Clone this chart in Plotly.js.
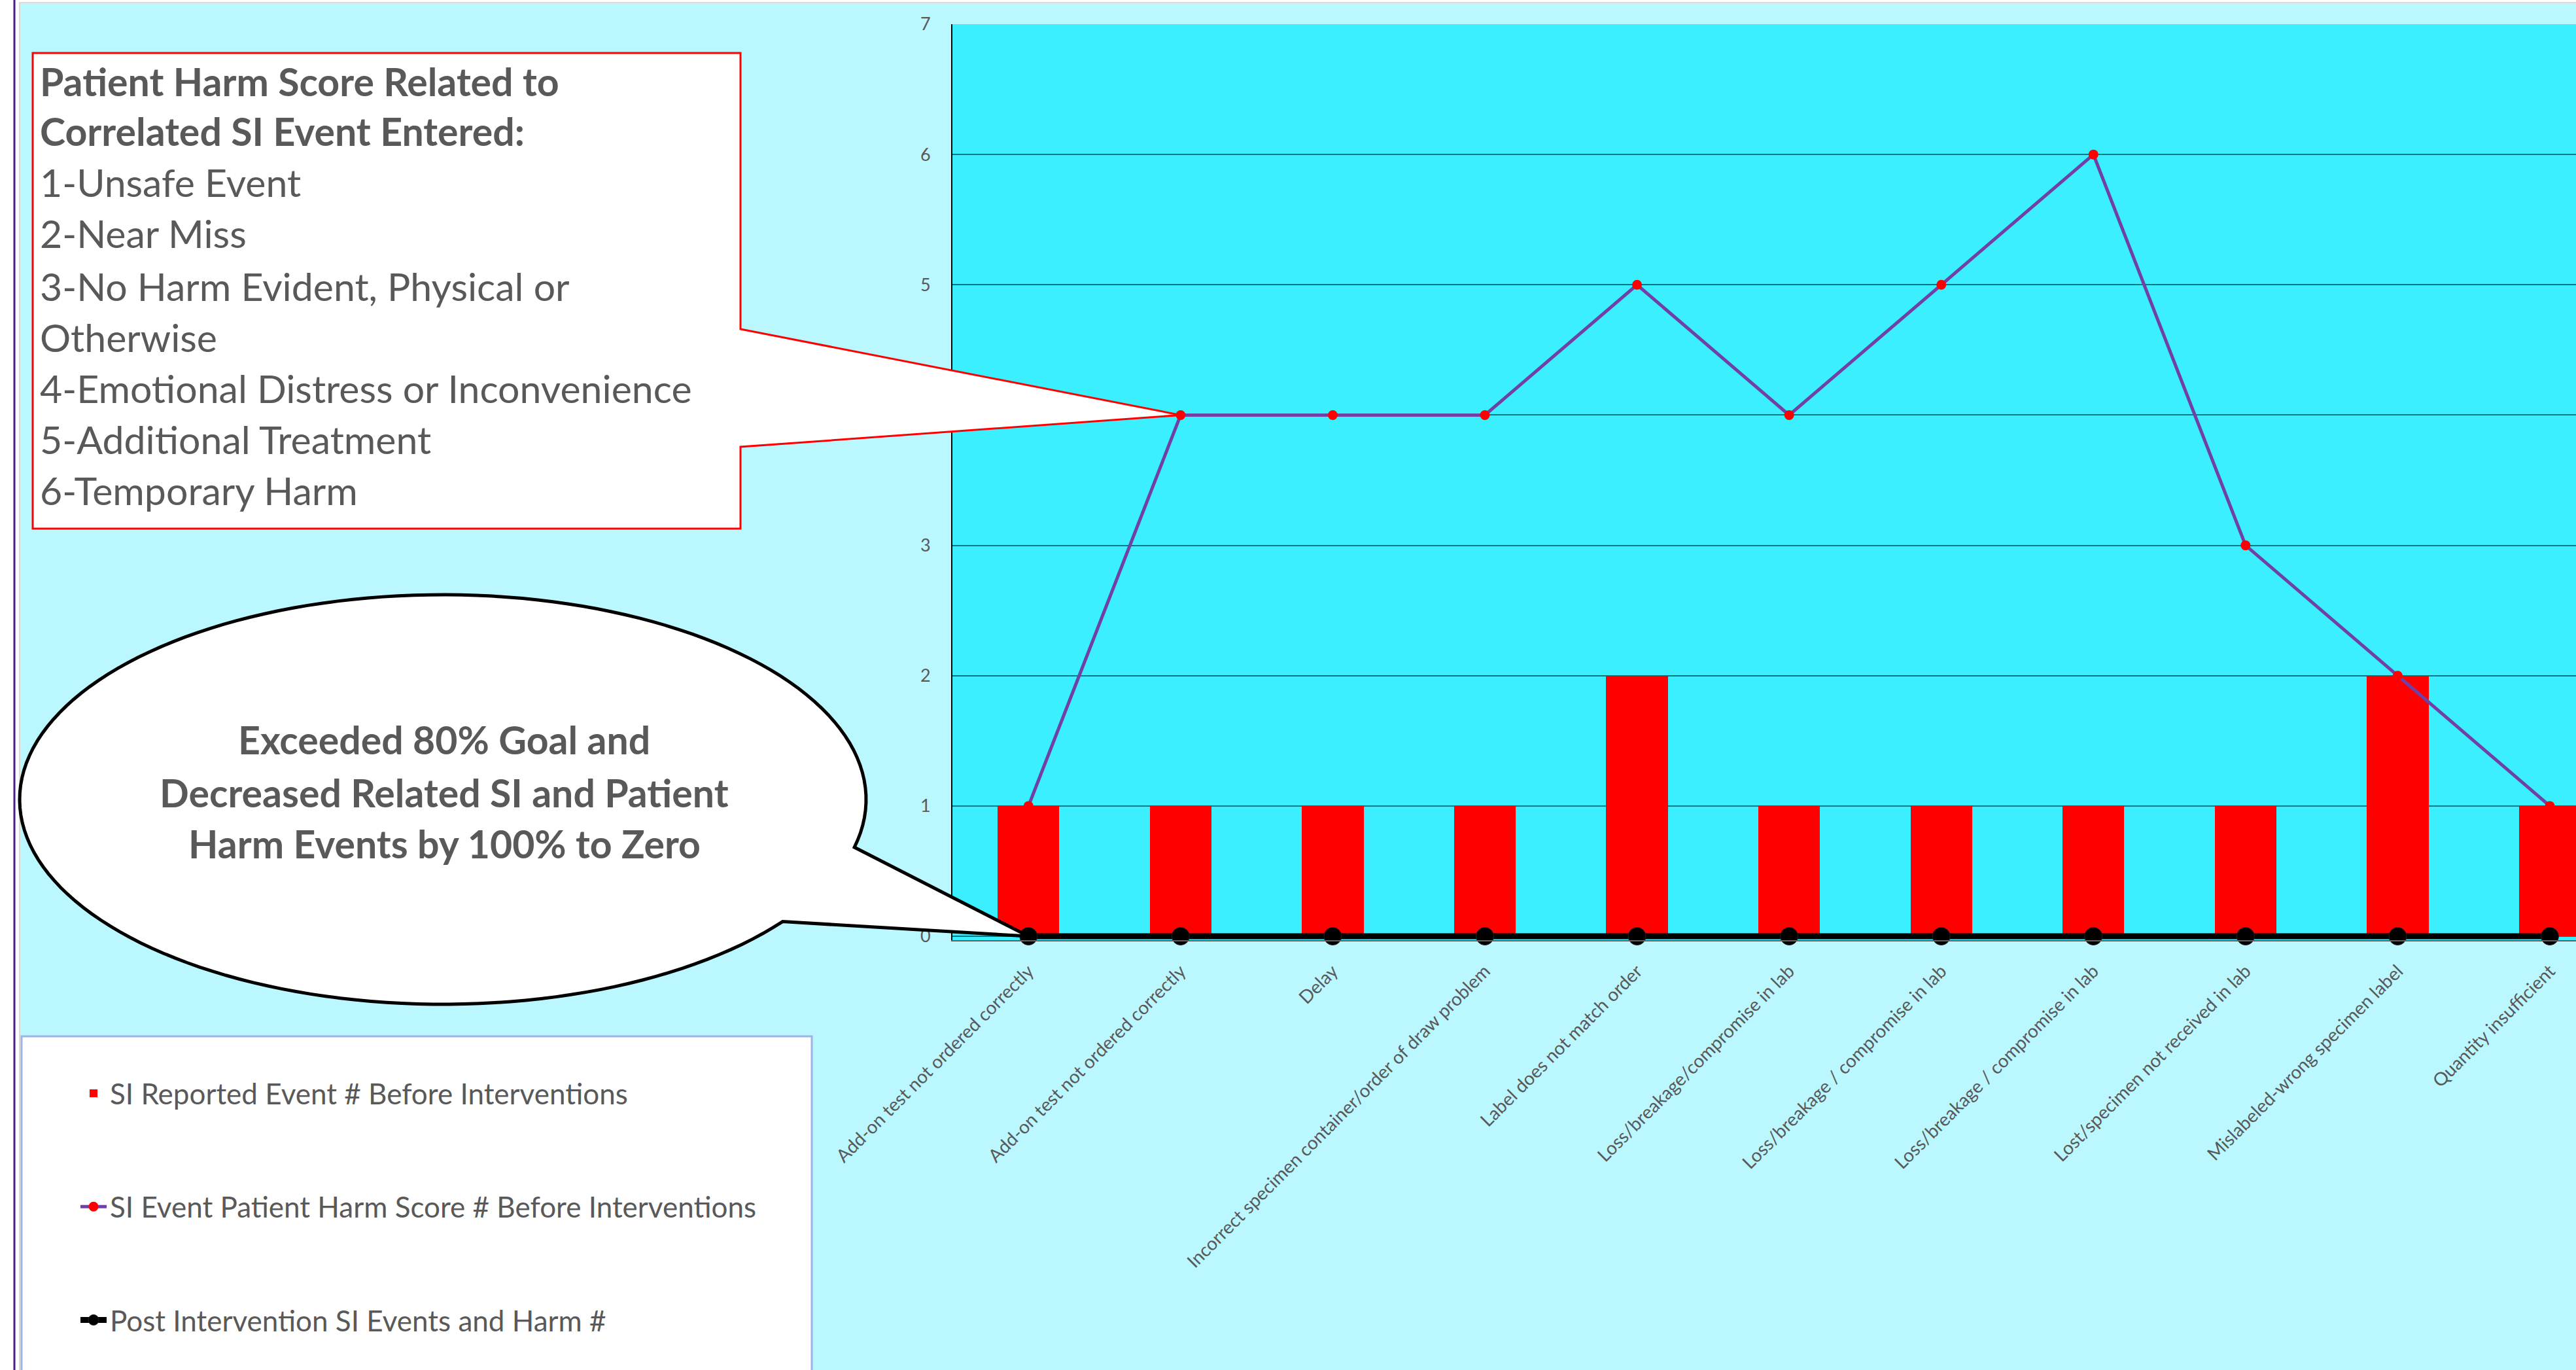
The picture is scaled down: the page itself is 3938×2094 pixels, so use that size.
<!DOCTYPE html>
<html><head><meta charset="utf-8">
<script src="https://cdn.plot.ly/plotly-3.0.1.min.js"></script>
<style>html,body{margin:0;padding:0;background:#ffffff;overflow:hidden}#chart{width:3938px;height:2094px}</style>
</head><body><div id="chart"></div>
<script>
// ---------- data ----------
const categories = [
  'Add-on test not ordered correctly',
  'Add-on test not ordered correctly',
  'Delay',
  'Incorrect specimen container/order of draw problem',
  'Label does not match order',
  'Loss/breakage/compromise in lab',
  'Loss/breakage / compromise in lab',
  'Loss/breakage / compromise in lab',
  'Lost/specimen not received in lab',
  'Mislabeled-wrong specimen label',
  'Quantity insufficient'
];
const reportedEvents = [1, 1, 1, 1, 2, 1, 1, 1, 1, 2, 1];
const harmScores     = [1, 4, 4, 4, 5, 4, 5, 6, 3, 2, 1];
const postEvents     = [0, 0, 0, 0, 0, 0, 0, 0, 0, 0, 0];
const yTicks = [0, 1, 2, 3, 4, 5, 6, 7];
const seriesNames = [
  'SI Reported Event # Before Interventions',
  'SI Event Patient Harm Score # Before Interventions',
  'Post Intervention SI Events and Harm #'
];
const harmKeyTitle = ['Patient Harm Score Related to', 'Correlated SI Event Entered:'];
const harmKeyItems = ['1-Unsafe Event', '2-Near Miss', '3-No Harm Evident, Physical or', 'Otherwise',
  '4-Emotional Distress or Inconvenience', '5-Additional Treatment', '6-Temporary Harm'];
const goalLines = ['Exceeded 80% Goal and', 'Decreased Related SI and Patient', 'Harm Events by 100% to Zero'];

// ---------- geometry ----------
const FW = 3938, FH = 2094;
const ZERO_PX = 1431, UNIT_PX = 199.1;
const YR = [-0.03, 7];
const L = 1456, R = 3938, T = 37, B = Math.round(ZERO_PX - YR[0] * UNIT_PX);
const PW = R - L, PH = B - T;
const XR = [-0.5, 10.172];
const px2x = p => (p - L) / PW;
const py2y = p => (B - p) / PH;
const dataPx = (i, v) => [L + (i - XR[0]) / (XR[1] - XR[0]) * PW, B - (v - YR[0]) / (YR[1] - YR[0]) * PH];
const xIdx = categories.map((_, i) => i);

const FONT = 'Lato, "Open Sans", sans-serif';
const TXT = '#595959';

function pathFromPx(pts) {
  return 'M' + pts.map(p => px2x(p[0]).toFixed(6) + ',' + py2y(p[1]).toFixed(6)).join('L') + 'Z';
}

// red callout box pointing at harm score of category 1
const tipRed = dataPx(1, harmScores[1]);
const redPath = pathFromPx([[50, 81], [1132, 81], [1132, 503], tipRed, [1132, 683], [1132, 808], [50, 808]]);

// ellipse callout pointing at post-intervention point of category 0
const tipBlk = dataPx(0, postEvents[0]);
const ecx = 677, ecy = 1222, erx = 647, ery = 313;
const a0 = 36.6 * Math.PI / 180, a1 = (360 + 13.5) * Math.PI / 180;
const ellPts = [];
for (let k = 0; k <= 160; k++) {
  const a = a0 + (a1 - a0) * k / 160;
  ellPts.push([ecx + erx * Math.cos(a), ecy + ery * Math.sin(a)]);
}
ellPts.push(tipBlk);
const ellPath = pathFromPx(ellPts);

const shapes = [
  // page frame decorations
  {type: 'rect', xref: 'paper', yref: 'paper', x0: px2x(0), x1: px2x(29), y0: py2y(FH), y1: py2y(0), fillcolor: '#ffffff', line: {width: 0}, layer: 'above'},
  {type: 'rect', xref: 'paper', yref: 'paper', x0: px2x(0), x1: px2x(FW), y0: py2y(3), y1: py2y(0), fillcolor: '#ffffff', line: {width: 0}, layer: 'above'},
  {type: 'line', xref: 'paper', yref: 'paper', x0: px2x(22), x1: px2x(22), y0: py2y(FH), y1: py2y(0), line: {color: '#4B1E8A', width: 3}, layer: 'above'},
  {type: 'line', xref: 'paper', yref: 'paper', x0: px2x(30), x1: px2x(30), y0: py2y(FH), y1: py2y(4), line: {color: '#D9D9D9', width: 2}, layer: 'above'},
  {type: 'line', xref: 'paper', yref: 'paper', x0: px2x(30), x1: px2x(FW), y0: py2y(4), y1: py2y(4), line: {color: '#D9D9D9', width: 2}, layer: 'above'},
  // legend box
  {type: 'rect', xref: 'paper', yref: 'paper', x0: px2x(33), x1: px2x(1241), y0: py2y(FH + 20), y1: py2y(1584), fillcolor: '#ffffff', line: {color: '#9DB4E6', width: 3}, layer: 'above'},
  // callouts
  {type: 'path', xref: 'paper', yref: 'paper', path: redPath, fillcolor: '#ffffff', line: {color: '#FF0000', width: 3}, layer: 'above'},
  {type: 'path', xref: 'paper', yref: 'paper', path: ellPath, fillcolor: '#ffffff', line: {color: '#000000', width: 5}, layer: 'above'}
];

const annotations = [];
const boxLineY = [126, 203, 281, 359, 439, 517, 595, 673, 751];
const boxLines = harmKeyTitle.map(t => ({t, b: true})).concat(harmKeyItems.map(t => ({t, b: false})));
boxLines.forEach((ln, k) => {
  annotations.push({xref: 'paper', yref: 'paper', x: px2x(59), y: py2y(boxLineY[k] - 2), xanchor: 'left', yanchor: 'middle',
    showarrow: false, text: ln.b ? '<b>' + ln.t + '</b>' : ln.t,
    font: {family: FONT, size: 59, color: TXT}});
});
const goalY = [1132, 1213, 1291];
goalLines.forEach((t, k) => {
  annotations.push({xref: 'paper', yref: 'paper', x: px2x(679), y: py2y(goalY[k] - 2), xanchor: 'center', yanchor: 'middle',
    showarrow: false, text: '<b>' + t + '</b>', font: {family: FONT, size: 59, color: TXT}});
});

const traces = [
  {type: 'bar', x: xIdx, y: reportedEvents, name: seriesNames[0], width: 0.405,
   marker: {color: '#FF0000', line: {width: 0}}, legendgroup: 'g1'},
  {type: 'scatter', mode: 'lines+markers', x: xIdx, y: harmScores, name: seriesNames[1],
   line: {color: '#7040A6', width: 5}, marker: {color: '#FF0000', size: 15}, legendgroup: 'g2'},
  {type: 'scatter', mode: 'lines+markers', x: xIdx, y: postEvents, name: seriesNames[2],
   line: {color: '#000000', width: 9}, marker: {color: '#000000', size: 27, line: {color: '#222222', width: 1}}, legendgroup: 'g3', cliponaxis: false}
];

const layout = {
  width: FW, height: FH,
  margin: {l: L, r: FW - R, t: T, b: FH - B, pad: 0},
  paper_bgcolor: '#BBF7FF',
  plot_bgcolor: '#3CEFFF',
  font: {family: FONT, color: TXT},
  showlegend: true,
  legend: {x: px2x(118), y: py2y(1636), xanchor: 'left', yanchor: 'top', bgcolor: 'rgba(0,0,0,0)', borderwidth: 0,
    font: {family: FONT, size: 44, color: TXT}, traceorder: 'grouped', tracegroupgap: 113, itemwidth: 40},
  xaxis: {range: XR, tickmode: 'array', tickvals: xIdx, ticktext: categories, tickangle: -45,
    tickfont: {family: FONT, size: 28, color: TXT}, showgrid: false, zeroline: false,
    showline: true, linecolor: '#606060', linewidth: 2, ticks: '', ticklabelstandoff: 18, fixedrange: true},
  yaxis: {range: YR, tickmode: 'array', tickvals: yTicks, ticktext: yTicks.map(String),
    tickfont: {family: FONT, size: 27, color: TXT}, showgrid: true, gridcolor: '#007A85', gridwidth: 2,
    zeroline: false, showline: true, linecolor: '#000000', linewidth: 2, ticks: '', ticklabelstandoff: 26, fixedrange: true},
  bargap: 0,
  shapes: shapes,
  annotations: annotations
};

Plotly.newPlot('chart', traces, layout, {displayModeBar: false, staticPlot: true});
</script>
</body></html>
